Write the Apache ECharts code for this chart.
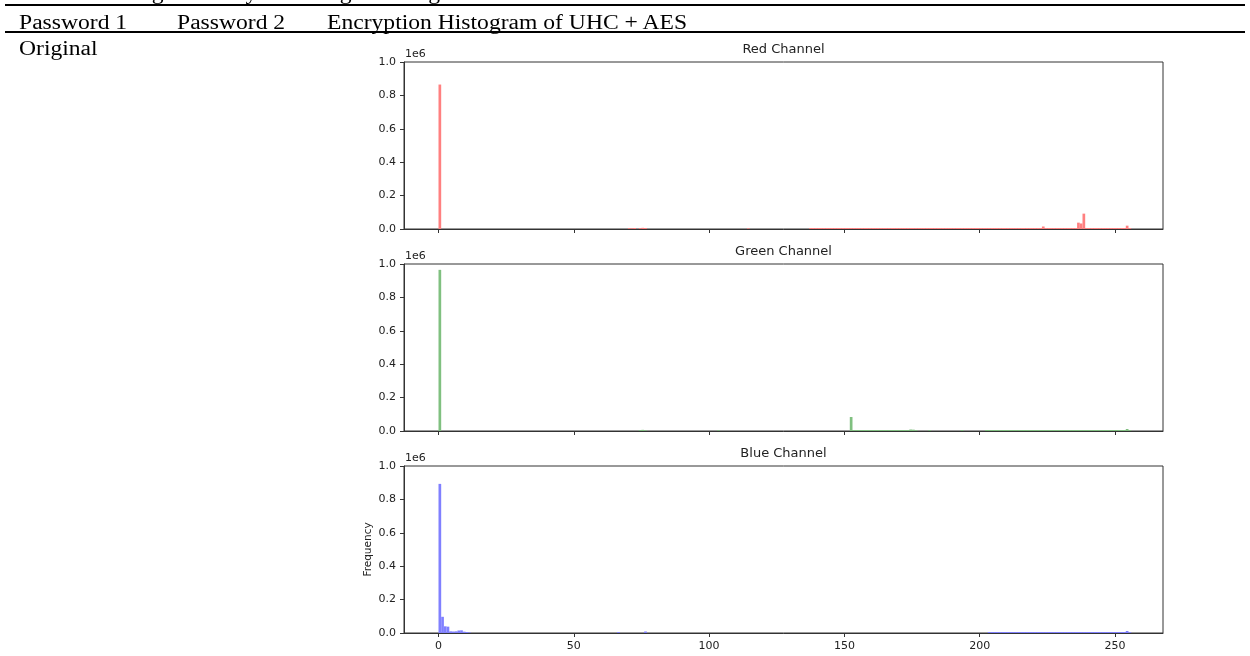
<!DOCTYPE html>
<html>
<head>
<meta charset="utf-8">
<script src="https://cdn.jsdelivr.net/npm/echarts@6/dist/echarts.min.js"></script>
<style>
  html, body { margin: 0; padding: 0; background: #fff; }
  #chart { position: absolute; left: 0; top: 0; width: 1250px; height: 656px; }
  .hd { position: absolute; font-family: "Liberation Serif", "Times New Roman", serif; font-size: 20px; color: #000;
        white-space: nowrap; transform: scaleX(1.18); transform-origin: 0 0; line-height: 1; }
  .rule { position: absolute; left: 5px; width: 1240px; background: #000; }
</style>
</head>
<body>
<div id="chart"></div>
<div class="hd" style="left:19px; top:-18px;">Table 4. Histogram analysis of original image</div>
<div class="rule" style="top:4px; height:2px;"></div>
<div class="hd" style="left:19px; top:12px;">Password 1</div>
<div class="hd" style="left:177px; top:12px;">Password 2</div>
<div class="hd" style="left:327px; top:12px;">Encryption Histogram of UHC + AES</div>
<div class="rule" style="top:31px; height:2px;"></div>
<div class="hd" style="left:19px; top:38px;">Original</div>
<script>
// ---- data ----
const channelTitles = ['Red Channel', 'Green Channel', 'Blue Channel'];
const channelColors = ['#ff8080', '#80c080', '#8080ff'];
const xTicks = [0, 50, 100, 150, 200, 250];
const binWidth = 255 / 256;

// [bin, count]
const redHist = [[0,865000],[70,5000],[71,4000],[72,6000],[74,5000],[75,7000],[76,6000],[114,4000],
 [137,6000],[138,6000],[139,6000],[140,6000],[141,6000],[142,6000],[143,6000],[144,6000],[145,6000],[146,6000],
 [147,6000],[148,6000],[149,6000],[150,6000],[151,6000],[152,6000],[153,6000],[154,6000],[155,6000],[156,6000],
 [157,6000],[158,6000],[159,6000],[160,6000],[161,6000],[162,6000],[163,6000],[164,6000],[165,6000],[166,6000],
 [167,6000],[168,6000],[169,6000],[170,6000],[171,6000],[172,6000],[173,6000],[174,6000],[175,6000],[176,6000],
 [177,6000],[178,6000],[179,6000],[180,6000],[181,6000],[182,6000],[183,6000],[184,6000],[185,6000],[186,6000],
 [187,6000],[188,6000],[189,6000],[190,6000],[191,6000],[192,6000],[193,6000],[194,6000],[195,6000],[196,6000],
 [197,6000],[198,6000],[199,6000],[200,6000],[201,6000],[202,6000],[203,6000],[204,6000],[205,6000],[206,6000],
 [207,6000],[208,6000],[209,6000],[210,6000],[211,6000],[212,6000],[213,6000],[214,6000],[215,6000],[216,6000],
 [217,6000],[218,6000],[219,6000],[220,6000],[221,6000],[222,6000],[223,15000],[224,6000],[225,6000],[226,6000],
 [227,6000],[228,6000],[229,6000],[230,6000],[231,6000],[232,6000],[233,6000],[234,6000],[235,6000],[236,38000],
 [237,33000],[238,92000],[239,6000],[240,6000],[241,6000],[242,6000],[243,6000],[244,6000],[245,6000],[246,6000],
 [247,6000],[248,6000],[249,6000],[250,6000],[251,6000],[252,6000],[253,6000],[254,20000],[255,6000]];

const greenHist = [[0,965000],[74,5000],[75,7000],[76,4000],[103,4000],
 [152,84000],[153,6000],[154,6000],[155,6000],[156,6000],[157,6000],[158,6000],[159,6000],[160,6000],[161,6000],
 [162,6000],[163,6000],[164,6000],[165,6000],[166,6000],[167,6000],[168,6000],[169,6000],[170,6000],[171,6000],
 [172,6000],[173,6000],[174,9000],[175,8000],[176,5000],[181,5000],[193,5000],
 [202,6000],[203,6000],[204,6000],[205,6000],[206,6000],[207,6000],[208,6000],[209,6000],[210,6000],[211,6000],
 [212,6000],[213,6000],[214,6000],[215,6000],[216,6000],[217,6000],[218,6000],[219,6000],[220,6000],[221,6000],
 [222,6000],[223,6000],[224,6000],[225,6000],[226,6000],[227,6000],[228,6000],[229,6000],[230,6000],[231,6000],
 [232,6000],[233,6000],[234,6000],[235,6000],[236,6000],[237,6000],[238,6000],[239,6000],[240,6000],[241,6000],
 [242,6000],[243,6000],[244,6000],[245,6000],[246,6000],[247,6000],[248,6000],[249,6000],[250,6000],[251,6000],
 [252,6000],[253,6000],[254,12000],[255,5000]];

const blueHist = [[0,893000],[1,97000],[2,40000],[3,38000],[4,10000],[5,9000],[6,10000],[7,15000],[8,16000],
 [9,8000],[10,6000],[11,3000],[66,5000],[76,9000],
 [203,6000],[204,6000],[205,6000],[206,6000],[207,6000],[208,6000],[209,6000],[210,6000],[211,6000],[212,6000],
 [213,6000],[214,6000],[215,6000],[216,6000],[217,6000],[218,6000],[219,6000],[220,6000],[221,6000],[222,6000],
 [223,6000],[224,6000],[225,6000],[226,6000],[227,6000],[228,6000],[229,6000],[230,6000],[231,6000],[232,6000],
 [233,6000],[234,6000],[235,6000],[236,6000],[237,6000],[238,6000],[239,6000],[240,6000],[241,6000],[242,6000],
 [243,6000],[244,6000],[245,6000],[246,6000],[247,6000],[248,6000],[249,6000],[250,6000],[251,6000],[252,6000],
 [253,6000],[254,12000],[255,5000]];

const hists = [redHist, greenHist, blueHist];

// ---- layout ----
const gridTops = [62, 264, 466];
const gridH = 167;
const gridL = 404, gridW = 759;
const axisColor = '#333';
const textColor = '#222';
const font = 'DejaVu Sans';

const chart = echarts.init(document.getElementById('chart'), null, { renderer: 'canvas' });

const grids = [], xAxes = [], yAxes = [], series = [], graphics = [];
hists.forEach((h, i) => {
  grids.push({ left: gridL, top: gridTops[i], width: gridW, height: gridH, show: true,
               borderColor: axisColor, borderWidth: 1, backgroundColor: 'transparent' });
  xAxes.push({
    type: 'value', gridIndex: i, min: -12.75, max: 267.75,
    splitLine: { show: false },
    axisLine: { show: true, onZero: false, lineStyle: { color: axisColor, width: 1 } },
    axisTick: { show: true, customValues: xTicks, length: 4, lineStyle: { color: axisColor } },
    axisLabel: { show: i === 2, customValues: xTicks, margin: 8, color: textColor, fontFamily: font, fontSize: 11 }
  });
  yAxes.push({
    type: 'value', gridIndex: i, min: 0, max: 1000000, interval: 200000,
    splitLine: { show: false },
    axisLine: { show: true, onZero: false, lineStyle: { color: axisColor, width: 1 } },
    axisTick: { show: true, length: 4, lineStyle: { color: axisColor } },
    axisLabel: { margin: 8, color: textColor, fontFamily: font, fontSize: 11,
                 formatter: v => (v / 1e6).toFixed(1) },
    name: i === 2 ? 'Frequency' : '', nameLocation: 'middle', nameGap: 30, nameRotate: 90,
    nameMoveOverlap: false,
    nameTextStyle: { color: textColor, fontFamily: font, fontSize: 10.5 }
  });
  series.push({
    type: 'custom', xAxisIndex: i, yAxisIndex: i,
    data: h, encode: { x: 0, y: 1 }, clip: true, z: 3,
    renderItem: (params, api) => {
      const b = api.value(0), v = api.value(1);
      const p0 = api.coord([b, v]);
      const p1 = api.coord([b + binWidth, 0]);
      return { type: 'rect',
               shape: { x: p0[0], y: p0[1], width: p1[0] - p0[0], height: p1[1] - p0[1] },
               style: { fill: channelColors[i] } };
    }
  });
  graphics.push({ type: 'text', x: gridL + gridW / 2, y: gridTops[i] - 12,
                  style: { text: channelTitles[i], fill: textColor, font: '13px "DejaVu Sans"',
                           textAlign: 'center', textVerticalAlign: 'middle' } });
  graphics.push({ type: 'text', x: gridL + 1, y: gridTops[i] - 8,
                  style: { text: '1e6', fill: textColor, font: '11px "DejaVu Sans"',
                           textAlign: 'left', textVerticalAlign: 'middle' } });
});

chart.setOption({
  animation: false,
  backgroundColor: '#fff',
  grid: grids, xAxis: xAxes, yAxis: yAxes, series: series, graphic: graphics
});
</script>
</body>
</html>
